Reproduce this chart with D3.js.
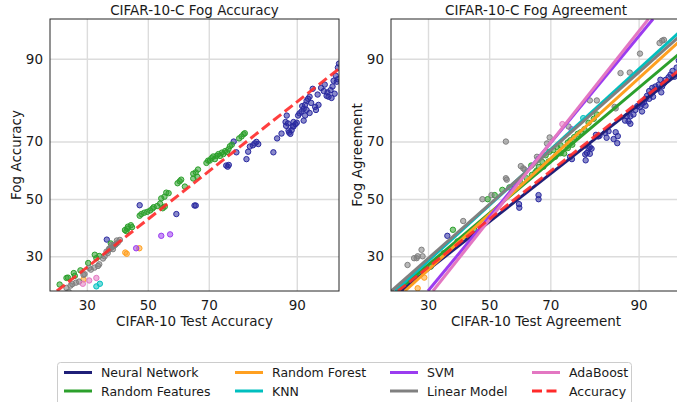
<!DOCTYPE html>
<meta charset="utf-8">
<script src="https://d3js.org/d3.v7.min.js"></script>
<style>
  body { margin: 0; background: #fff; }
  text { font-family: "DejaVu Sans", sans-serif; fill: #1a1a1a; }
</style>
<div id="chart"></div>
<script>
// ---- data (percent) ----
const modelNames = ["Neural Network", "Random Features", "Random Forest", "KNN", "SVM", "Linear Model", "AdaBoost"];
const modelColors = ["#1f1f78", "#2ca02c", "#ffa020", "#00bfbf", "#9b3cf0", "#808080", "#e377c2"];
const pointColors = ["#2a2aa0", "#2ca02c", "#ffa020", "#00bfbf", "#9b3cf0", "#808080", "#e377c2"];
const tickValues = [30, 50, 70, 90];
const axisDomain = [20, 95];

// left panel: test accuracy vs fog accuracy
const accNN = [[36.2,35.5],[47.2,47.7],[59.7,44.5],[65.6,47.6],[66.0,47.6],
  [75.0,62.0],[75.4,61.6],[75.7,62.2],[77.0,70.0],[77.7,66.5],[80.2,64.2],
  [80.6,66.7],[81.0,68.4],[81.7,68.8],[82.1,69.4],[82.5,69.9],[82.9,69.2],
  [86.0,66.5],[86.7,71.0],[87.5,72.5],
  [88.3,74.8],[88.6,75.5],[88.8,72.8],[89.0,72.4],[89.2,73.5],[89.5,74.6],[89.8,75.3],[90.0,75.7],
  [90.2,77.7],[90.4,78.3],[90.7,78.8],[91.0,79.5],[91.2,80.5],[91.4,81.5],[91.6,82.0],[91.8,82.5],
  [92.2,84.3],[91.4,79.2],[91.8,78.4],[92.6,79.2],[92.5,80.0],[91.0,76.3],[89.5,75.9],[91.2,77.7],
  [88.2,75.9],[88.4,77.7],[88.7,73.4],[89.4,74.7],
  [93.8,82.7],[94.0,82.5],[94.2,84.0],[94.4,84.8],[94.8,85.8],[94.9,86.3],[94.3,82.2],[94.6,83.2],
  [93.9,83.5],[93.5,83.8],[93.2,84.5],[94.7,87.0],[94.9,88.5],[95.0,89.2],[94.5,86.0],[93.6,85.2],
  [92.8,83.0],[92.9,80.5],[92.0,81.0],[90.8,80.2]];
const accRF = [[22.4,21.7],[24.2,23.5],[24.6,23.6],[26.2,24.9],[26.5,24.1],[28.1,25.7],[30.4,27.9],
  [32.4,30.5],[32.9,29.4],[33.8,30.1],[37.5,34.2],[38.5,33.5],
  [42.2,38.8],[42.7,38.4],[43.2,40.0],[44.2,40.5],[44.6,39.8],[43.0,39.3],
  [47.2,43.9],[47.8,44.5],[48.8,45.0],[49.8,45.3],[50.8,45.8],[51.6,46.5],[52.0,47.0],[53.2,47.4],
  [54.2,48.3],[54.6,50.2],[55.7,50.8],[56.3,52.3],[57.1,52.1],[55.1,46.6],[55.8,47.2],
  [60.1,55.7],[60.8,56.4],[61.3,57.0],[62.5,54.5],[65.2,59.1],[66.0,59.6],[66.7,60.6],[65.2,57.4],[66.5,58.0],
  [69.3,62.9],[69.8,63.7],[70.3,63.7],[70.8,64.5],[71.3,65.1],[71.8,64.2],[72.3,65.3],[72.8,65.9],
  [73.3,65.3],[73.8,66.4],[74.2,65.9],[74.7,66.9],[75.2,66.6],[75.6,67.5],[76.0,68.5],[76.5,69.0],
  [78.4,71.0],[79.0,71.6],[79.5,72.3],[79.8,72.6]];
const accForest = [[42.3,31.2],[42.8,30.8],[47.1,32.6],[29.0,23.1]];
const accKNN = [[32.9,21.2],[34.0,21.9]];
const accSVM = [[46.0,32.6],[54.6,36.8],[57.6,37.3]];
const accLin = [[24.2,20.8],[25.3,21.4],[25.8,21.8],[26.8,22.2],[27.7,22.5],[29.0,24.4],[29.3,24.6],
  [30.7,26.4],[31.2,25.9],[32.3,26.5],[33.4,27.0],[33.8,27.5],[35.0,29.3],[35.5,30.0],[36.1,31.5],
  [36.8,32.0],[37.4,32.6],[38.0,33.0],[38.6,33.5],[39.2,34.0],[39.8,34.5],[40.5,35.4],[36.5,31.0],
  [37.0,32.5],[38.2,32.3],[39.0,33.8],[37.8,33.7],[39.5,35.2],[24.8,19.8]];
const accAda = [[28.8,21.9],[30.7,22.8],[32.9,23.5]];
const accuracyFit = [[21.7, 20], [95, 88.3]];

// right panel: test agreement vs fog agreement
const agrNN = [[36.0,36.8],[60.1,48.1],[60.2,46.8],[66.4,51.4],[66.4,49.9],
  [75.6,65.0],[76.1,64.2],[79.6,63.8],[79.9,66.3],[80.6,66.0],[81.0,67.7],[80.3,67.8],[79.5,65.8],[80.6,68.2],
  [82.0,72.1],[82.5,71.6],[82.8,71.8],[84.0,72.7],[84.7,73.2],[86.1,72.9],[86.5,71.7],[84.3,71.2],[85.7,70.8],[86.4,69.5],
  [87.8,76.3],[88.1,77.5],[88.4,76.1],[88.7,75.4],[88.7,77.5],[89.2,78.0],[89.5,79.2],[89.8,80.2],[90.2,80.0],
  [90.5,80.8],[90.5,78.8],[90.8,81.2],[91.0,82.0],[91.0,80.3],[91.2,82.7],[91.5,83.8],[91.5,82.0],[91.7,83.1],
  [91.9,84.5],[92.1,83.8],[92.3,84.8],[92.5,84.2],[92.7,85.2],[92.9,86.2],[93.1,84.8],[93.3,85.5],[93.5,86.2],
  [93.8,86.7],[94.0,87.2],[94.2,87.9],[94.6,88.5],[94.8,89.7],[93.0,83.5],[92.0,82.5],[94.4,86.8]];
const agrRF = [[22.0,20.7],[24.6,22.6],[27.4,24.4],[30.8,26.8],[32.8,28.9],[34.9,31.0],[37.8,38.9],
  [39.3,34.9],[42.1,36.8],[44.9,38.9],[49.5,49.9],[51.9,51.4],[54.5,53.3],[56.9,54.2],[58.7,55.1],
  [60.4,56.3],[62.6,57.5],[64.3,58.7],[65.8,60.2],[67.9,61.6],[69.5,63.4],[71.4,65.0],[73.0,66.2],
  [75.0,67.9],[76.2,69.0],[64.1,62.0],[65.4,59.6],[66.5,61.5],[67.6,63.2],[68.6,65.5],[69.7,66.7],
  [70.9,67.2],[71.9,68.3],[73.0,68.8],[74.0,66.1],[75.0,69.7],[75.7,70.4],[76.7,71.4],[77.6,72.4],
  [78.4,72.9],[79.3,73.8],[80.3,75.7],[81.5,76.8],[82.2,78.0]];
const agrForest = [[27.0,20.7],[28.9,23.6]];
const agrKNN = [[79.0,77.0],[26.5,25.0]];
const agrSVM = [[76.0,73.8]];
const agrLin = [[24.2,27.3],[26.0,29.4],[26.7,29.4],[27.0,30.0],[28.1,32.1],[28.4,30.0],[41.2,42.0],
  [47.7,49.9],[50.8,51.4],[55.7,70.0],[55.7,57.5],[56.0,57.0],[60.7,61.8],[61.5,61.0],[62.0,60.5],
  [65.9,65.0],[66.3,64.3],[69.0,69.4],[69.8,71.3],[75.2,74.6],[80.6,81.6],[82.2,81.6],[85.9,80.0],
  [86.1,79.6],[87.0,87.5],[88.6,87.6],[90.2,90.8],[92.8,92.3],[93.1,92.6],[93.3,92.7]];
const agrAda = [[73.5,75.3]];
// linear fits (in probit space), given by two points each, same order as modelNames
const agreementFits = [
  [[22.5,20],[95,87.8]],
  [[21.5,20],[95,91.0]],
  [[23.5,20],[95,92.7]],
  [[21.0,20],[95,93.8]],
  [[30.0,20],[92.0,95]],
  [[20.1,20],[95,93.3]],
  [[31.5,20],[91.4,95]]
];

const accSeries = [accNN, accRF, accForest, accKNN, accSVM, accLin, accAda];
const agrSeries = [agrNN, agrRF, agrForest, agrKNN, agrSVM, agrLin, agrAda];

// ---- probit (inverse normal CDF, Acklam) ----
function probit(p) {
  const a = [-3.969683028665376e+01, 2.209460984245205e+02, -2.759285104469687e+02, 1.383577518672690e+02, -3.066479806614716e+01, 2.506628277459239e+00];
  const b = [-5.447609879822406e+01, 1.615858368580409e+02, -1.556989798598866e+02, 6.680131188771972e+01, -1.328068155288572e+01];
  const c = [-7.784894002430293e-03, -3.223964580411365e-01, -2.400758277161838e+00, -2.549732539343734e+00, 4.374664141464968e+00, 2.938163982698783e+00];
  const d = [7.784695709041462e-03, 3.224671290700398e-01, 2.445134137142996e+00, 3.754408661907416e+00];
  const plow = 0.02425;
  let q, r;
  if (p < plow) {
    q = Math.sqrt(-2 * Math.log(p));
    return (((((c[0]*q+c[1])*q+c[2])*q+c[3])*q+c[4])*q+c[5]) / ((((d[0]*q+d[1])*q+d[2])*q+d[3])*q+1);
  }
  if (p > 1 - plow) {
    q = Math.sqrt(-2 * Math.log(1 - p));
    return -(((((c[0]*q+c[1])*q+c[2])*q+c[3])*q+c[4])*q+c[5]) / ((((d[0]*q+d[1])*q+d[2])*q+d[3])*q+1);
  }
  q = p - 0.5; r = q * q;
  return (((((a[0]*r+a[1])*r+a[2])*r+a[3])*r+a[4])*r+a[5])*q / (((((b[0]*r+b[1])*r+b[2])*r+b[3])*r+b[4])*r+1);
}
const pz = v => probit(v / 100);

const W = 677, H = 402;
const svg = d3.select("#chart").append("svg").attr("width", W).attr("height", H);
const plotTop = 19, plotBottom = 291;

function panel(id, left, right, title, xlabel, ylabel, series, fits) {
  const x = d3.scaleLinear().domain(axisDomain.map(pz)).range([left, right]);
  const y = d3.scaleLinear().domain(axisDomain.map(pz)).range([plotBottom, plotTop]);
  const g = svg.append("g");

  g.append("clipPath").attr("id", id).append("rect")
    .attr("x", left).attr("y", plotTop).attr("width", right - left).attr("height", plotBottom - plotTop);

  // grid
  g.append("g").attr("transform", "translate(0," + plotBottom + ")")
    .call(d3.axisBottom(x).tickValues(tickValues.map(pz)).tickSize(-(plotBottom - plotTop)).tickFormat(""))
    .call(s => s.select(".domain").remove())
    .selectAll("line").attr("stroke", "#dcdcdc").attr("stroke-width", 1.4);
  g.append("g").attr("transform", "translate(" + left + ",0)")
    .call(d3.axisLeft(y).tickValues(tickValues.map(pz)).tickSize(-(right - left)).tickFormat(""))
    .call(s => s.select(".domain").remove())
    .selectAll("line").attr("stroke", "#dcdcdc").attr("stroke-width", 1.4);

  const plot = g.append("g").attr("clip-path", "url(#" + id + ")");
  series.forEach((pts, i) => {
    plot.append("g").selectAll("circle").data(pts).enter().append("circle")
      .attr("cx", d => x(pz(d[0]))).attr("cy", d => y(pz(d[1])))
      .attr("r", 2.7)
      .attr("fill", pointColors[i]).attr("fill-opacity", 0.55)
      .attr("stroke", pointColors[i]).attr("stroke-width", 1);
  });
  const line = d3.line().x(d => x(pz(d[0]))).y(d => y(pz(d[1])));
  if (fits) {
    fits.forEach((f, i) => {
      plot.append("path").attr("d", line(f)).attr("fill", "none")
        .attr("stroke", modelColors[i]).attr("stroke-width", 3);
    });
  }
  plot.append("path").attr("d", line(accuracyFit)).attr("fill", "none")
    .attr("stroke", "#ff2a2a").attr("stroke-opacity", 0.9).attr("stroke-width", 3)
    .attr("stroke-dasharray", "10,4.5");

  // spines
  g.append("rect").attr("x", left).attr("y", plotTop).attr("width", right - left).attr("height", plotBottom - plotTop)
    .attr("fill", "none").attr("stroke", "#262626").attr("stroke-width", 1);

  // tick labels
  g.append("g").attr("transform", "translate(0," + plotBottom + ")")
    .call(d3.axisBottom(x).tickValues(tickValues.map(pz)).tickSize(0).tickPadding(0).tickFormat((d, i) => tickValues[i]))
    .call(s => s.select(".domain").remove())
    .selectAll("text").attr("y", 18.5).attr("dy", 0).style("font-size", "13.5px").style("font-family", "DejaVu Sans").attr("fill", "#1a1a1a");
  g.append("g").attr("transform", "translate(" + left + ",0)")
    .call(d3.axisLeft(y).tickValues(tickValues.map(pz)).tickSize(0).tickPadding(7).tickFormat((d, i) => tickValues[i]))
    .call(s => s.select(".domain").remove())
    .selectAll("text").style("font-size", "13.5px").style("font-family", "DejaVu Sans").attr("fill", "#1a1a1a");

  g.append("text").attr("x", (left + right) / 2).attr("y", 14.5).attr("text-anchor", "middle")
    .style("font-size", "13.5px").text(title);
  g.append("text").attr("x", (left + right) / 2).attr("y", 326).attr("text-anchor", "middle")
    .style("font-size", "13.5px").text(xlabel);
  g.append("text").attr("transform", "translate(" + (left - 29.5) + "," + ((plotTop + plotBottom) / 2) + ")rotate(-90)")
    .attr("text-anchor", "middle").style("font-size", "13.5px").text(ylabel);
}

panel("clipA", 50, 339, "CIFAR-10-C Fog Accuracy", "CIFAR-10 Test Accuracy", "Fog Accuracy", accSeries, null);
panel("clipB", 391, 681, "CIFAR-10-C Fog Agreement", "CIFAR-10 Test Agreement", "Fog Agreement", agrSeries, agreementFits);

// ---- legend ----
const legend = svg.append("g");
legend.append("rect").attr("x", 57.5).attr("y", 362.5).attr("width", 574).attr("height", 44)
  .attr("rx", 3).attr("fill", "#fff").attr("stroke", "#cccccc");
const legendItems = modelNames.map((n, i) => ({ name: n, color: modelColors[i], dash: null }))
  .concat([{ name: "Accuracy", color: "#ff2a2a", dash: "10,4.5" }]);
const colX = [64, 235, 390, 532];
const rowY = [372.5, 391];
legendItems.forEach((d, i) => {
  const cx = colX[Math.floor(i / 2)], cy = rowY[i % 2];
  legend.append("line").attr("x1", cx).attr("x2", cx + 28).attr("y1", cy).attr("y2", cy)
    .attr("stroke", d.color).attr("stroke-width", 3).attr("stroke-dasharray", d.dash);
  legend.append("text").attr("x", cx + 37).attr("y", cy).attr("dy", "0.36em")
    .style("font-size", "12.5px").text(d.name);
});
</script>
